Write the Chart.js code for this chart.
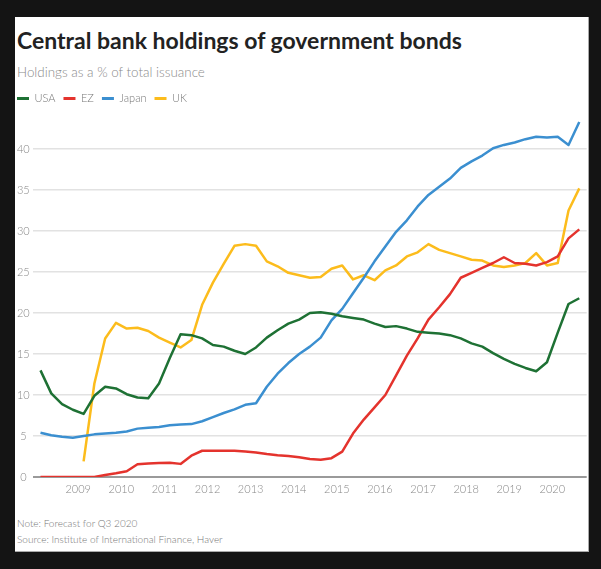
<!DOCTYPE html>
<html>
<head>
<meta charset="utf-8">
<script src="https://cdn.jsdelivr.net/npm/chart.js@4"></script>
<style>
  html, body { margin: 0; padding: 0; background: #141414; }
  #panel { position: absolute; left: 15px; top: 17px; width: 574px; height: 535px; background: #fff;
           box-sizing: border-box; border-right: 1px solid #aaa; border-bottom: 1px solid #aaa; }
  #title { position: absolute; left: 2px; top: 9px; font: 700 23px Lato, sans-serif; color: #222; white-space: nowrap; }
  #subtitle { position: absolute; left: 2px; top: 47px; font: 300 13.4px Lato, sans-serif; color: #8a8a8a; white-space: nowrap; }
  #wrap { position: absolute; left: -6px; top: 68px; width: 580px; height: 412px; }
  .note { position: absolute; left: 2px; font: 300 10px Lato, sans-serif; color: #777; white-space: nowrap; }
</style>
</head>
<body>
<div id="panel">
  <div id="title">Central bank holdings of government bonds</div>
  <div id="subtitle">Holdings as a % of total issuance</div>
  <div id="wrap"><canvas id="myChart"></canvas></div>
  <div class="note" style="top:500px">Note: Forecast for Q3 2020</div>
  <div class="note" style="top:516px">Source: Institute of International Finance, Haver</div>
</div>
<script>
// quarterly, Q1 2008 .. Q3 2020 (last one is a forecast)
const quarters = [
  '2008Q1','2008Q2','2008Q3','2008Q4','2009Q1','2009Q2','2009Q3','2009Q4',
  '2010Q1','2010Q2','2010Q3','2010Q4','2011Q1','2011Q2','2011Q3','2011Q4',
  '2012Q1','2012Q2','2012Q3','2012Q4','2013Q1','2013Q2','2013Q3','2013Q4',
  '2014Q1','2014Q2','2014Q3','2014Q4','2015Q1','2015Q2','2015Q3','2015Q4',
  '2016Q1','2016Q2','2016Q3','2016Q4','2017Q1','2017Q2','2017Q3','2017Q4',
  '2018Q1','2018Q2','2018Q3','2018Q4','2019Q1','2019Q2','2019Q3','2019Q4',
  '2020Q1','2020Q2','2020Q3'
];
const yearTicks = [2009, 2010, 2011, 2012, 2013, 2014, 2015, 2016, 2017, 2018, 2019, 2020];
const valueTicks = [0, 5, 10, 15, 20, 25, 30, 35, 40];

const usa = [13.0, 10.2, 8.9, 8.2, 7.7, 9.9, 11.0, 10.8, 10.1, 9.7,
  9.6, 11.4, 14.5, 17.4, 17.3, 16.9, 16.1, 15.9, 15.4, 15.0,
  15.8, 17.0, 17.9, 18.7, 19.2, 20.0, 20.1, 19.9, 19.6, 19.4,
  19.2, 18.7, 18.3, 18.4, 18.1, 17.7, 17.6, 17.5, 17.3, 16.9,
  16.3, 15.9, 15.1, 14.4, 13.8, 13.3, 12.9, 14.0, 17.6, 21.1,
  21.8];
const ez = [0, 0, 0, 0, 0, 0, 0.25, 0.45, 0.7, 1.55,
  1.65, 1.7, 1.75, 1.6, 2.6, 3.2, 3.2, 3.2, 3.2, 3.1,
  3.0, 2.8, 2.65, 2.55, 2.4, 2.2, 2.1, 2.3, 3.1, 5.3,
  7.0, 8.5, 10.0, 12.4, 14.8, 16.9, 19.2, 20.7, 22.3, 24.3,
  24.9, 25.5, 26.1, 26.8, 26.1, 26.0, 25.8, 26.2, 26.9, 29.1,
  30.2];
const japan = [5.4, 5.1, 4.9, 4.8, 5.0, 5.2, 5.3, 5.4, 5.55, 5.9,
  6.0, 6.1, 6.3, 6.4, 6.45, 6.8, 7.3, 7.8, 8.25, 8.8,
  9.0, 11.0, 12.6, 13.9, 15.0, 15.9, 17.0, 19.1, 20.5, 22.4,
  24.3, 26.3, 28.1, 29.9, 31.3, 33.0, 34.4, 35.4, 36.4, 37.7,
  38.5, 39.2, 40.1, 40.5, 40.8, 41.2, 41.5, 41.4, 41.5, 40.5,
  43.3];
const uk = [null, null, null, null, 1.9, 11.4, 16.9, 18.8, 18.1, 18.2,
  17.8, 17.0, 16.4, 15.8, 16.7, 21.0, 23.7, 26.0, 28.2, 28.4,
  28.2, 26.3, 25.7, 24.9, 24.6, 24.3, 24.4, 25.4, 25.8, 24.1,
  24.6, 24.0, 25.2, 25.8, 26.9, 27.4, 28.4, 27.7, 27.3, 26.9,
  26.5, 26.4, 25.8, 25.6, 25.8, 26.1, 27.3, 25.8, 26.1, 32.5,
  35.2];

// mid-quarter position in years, e.g. 2008Q1 -> 2008.125
const xPos = quarters.map(s => +s.slice(0, 4) + (+s.slice(5) - 0.5) / 4);

function line(label, values, color) {
  return {
    label: label,
    data: values,
    borderColor: color,
    backgroundColor: color,
    borderWidth: 2.5,
    pointRadius: 0,
    tension: 0,
    fill: false,
    borderJoinStyle: 'round'
  };
}

const tickFont = { family: 'Lato, sans-serif', size: 11, weight: '300' };

const config = {
  type: 'line',
  data: {
    labels: xPos,
    datasets: [
      line('USA', usa, '#1e7134'),
      line('EZ', ez, '#e4332d'),
      line('Japan', japan, '#3b8fd0'),
      line('UK', uk, '#fcbc1c')
    ]
  },
  options: {
    responsive: true,
    maintainAspectRatio: false,
    animation: false,
    layout: { padding: { left: 0, right: 2.3, top: 0, bottom: 0 } },
    plugins: {
      title: { display: false },
      tooltip: { enabled: false },
      legend: {
        display: true,
        position: 'top',
        align: 'start',
        labels: {
          boxWidth: 12,
          boxHeight: 3,
          padding: 8,
          color: '#777',
          font: tickFont,
          generateLabels: chart => Chart.defaults.plugins.legend.labels.generateLabels(chart)
            .map(item => Object.assign(item, { lineWidth: 0, fillStyle: item.strokeStyle }))
        }
      }
    },
    scales: {
      x: {
        type: 'linear',
        min: 2007.944,
        max: 2020.797,
        afterBuildTicks: axis => { axis.ticks = yearTicks.map(v => ({ value: v })); },
        afterFit: axis => { axis.height = 20; },
        grid: { display: false, drawTicks: false },
        border: { display: false },
        ticks: {
          autoSkip: false,
          maxRotation: 0,
          padding: 6,
          color: '#888',
          font: tickFont,
          callback: v => String(v)
        }
      },
      y: {
        min: 0,
        max: 44.27,
        afterBuildTicks: axis => { axis.ticks = valueTicks.map(v => ({ value: v })); },
        afterFit: axis => { axis.width = 23.7; },
        border: { display: false },
        grid: {
          drawTicks: false,
          color: ctx => ctx.tick && ctx.tick.value === 0 ? '#9a9a9a' : '#e2e2e2',
          lineWidth: ctx => ctx.tick && ctx.tick.value === 0 ? 2 : 1.5
        },
        ticks: {
          padding: 3,
          crossAlign: 'center',
          color: '#888',
          font: tickFont
        }
      }
    }
  }
};

const myChart = new Chart(document.getElementById('myChart'), config);
</script>
</body>
</html>
